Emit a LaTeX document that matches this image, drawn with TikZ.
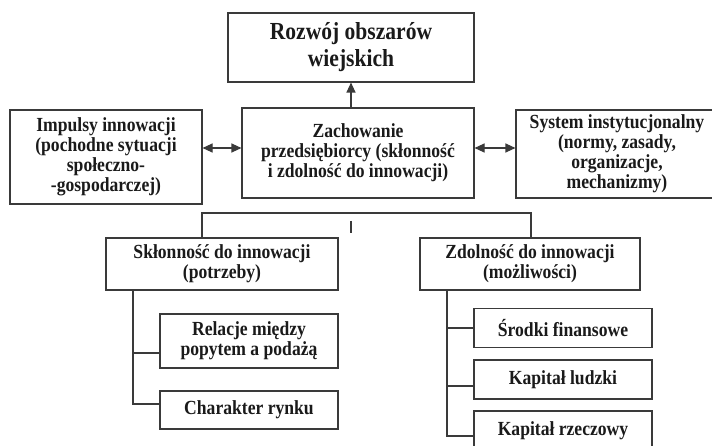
\documentclass[tikz,border=0pt]{standalone}
\usepackage{fontspec}
\setmainfont{Liberation Serif}[FakeStretch=0.88]
\usetikzlibrary{arrows.meta}
\definecolor{ln}{HTML}{3A3A3A}
\definecolor{tx}{HTML}{1A1A1A}
\tikzset{
  box/.style={draw=ln, line width=1.1pt, fill=white, text=tx, align=center, inner sep=0pt,
    font=\bfseries\fontsize{20}{20}\selectfont},
  bigbox/.style={box, font=\bfseries\fontsize{24.5}{27}\selectfont},
  conn/.style={draw=ln, line width=1.1pt},
  tip/.style={-{Triangle[length=10pt,width=9pt]}},
  dtip/.style={{Triangle[length=10pt,width=9pt]}-{Triangle[length=10pt,width=9pt]}}
}
\begin{document}
\begin{tikzpicture}[x=1pt,y=1pt]
\useasboundingbox (0,0) rectangle (712,-446);
\clip (0,0) rectangle (712,-446);
\fill[white] (0,0) rectangle (712,-446);

\node[bigbox, minimum width=246, minimum height=69] (top) at (351,-47.5) {Rozwój obszarów\\wiejskich};
\node[box, minimum width=232, minimum height=90] (mid) at (358,-153) {Zachowanie\\przedsiębiorcy (skłonność\\i zdolność do innowacji)};
\node[box, minimum width=192, minimum height=94] (left) at (106,-157) {Impulsy innowacji\\(pochodne sytuacji\\społeczno-\\-gospodarczej)};
\node[box, minimum width=202, minimum height=88] (right) at (617,-154) {System instytucjonalny\\(normy, zasady,\\organizacje,\\mechanizmy)};

\node[box, minimum width=232, minimum height=52] (skl) at (222,-264) {Skłonność do innowacji\\(potrzeby)};
\node[box, minimum width=220, minimum height=52] (zdol) at (530,-264) {Zdolność do innowacji\\(możliwości)};

\node[box, minimum width=178, minimum height=54] (rel) at (249,-341) {Relacje między\\popytem a podażą};
\node[box, minimum width=178, minimum height=38] (char) at (249,-410) {Charakter rynku};

\node[box, minimum width=178, minimum height=39] (srod) at (563,-328) {Środki finansowe};
\node[box, minimum width=178, minimum height=39] (kl) at (563,-379.5) {Kapitał ludzki};
\node[box, minimum width=178, minimum height=39] (kr) at (563,-430.5) {Kapitał rzeczowy};

% arrows
\coordinate (ay) at (0,-148);
\draw[conn, tip] (mid.north -| top.south) -- (top.south);
\draw[conn, dtip] (left.east |- ay) -- (mid.west |- ay);
\draw[conn, dtip] (mid.east |- ay) -- (right.west |- ay);

% fork
\coordinate (fl) at (202,-213);
\coordinate (fr) at (531,-213);
\draw[conn] (skl.north -| fl) -- (fl) -- (fr) -- (zdol.north -| fr);
\coordinate (t1) at (351,-221);
\coordinate (t2) at (351,-233);
\draw[conn] (t1) -- (t2);

% left tree
\coordinate (lx) at (133,-404);
\coordinate (lb1) at (0,-353);
\draw[conn] (skl.south -| lx) -- (lx) -- (char.west |- lx);
\draw[conn] (lx |- lb1) -- (rel.west |- lb1);

% right tree
\coordinate (rx) at (447,-436);
\coordinate (rb2) at (0,-386);
\draw[conn] (zdol.south -| rx) -- (rx) -- (kr.west |- rx);
\draw[conn] (rx |- srod.west) -- (srod.west);
\draw[conn] (rx |- rb2) -- (kl.west |- rb2);
\end{tikzpicture}
\end{document}
